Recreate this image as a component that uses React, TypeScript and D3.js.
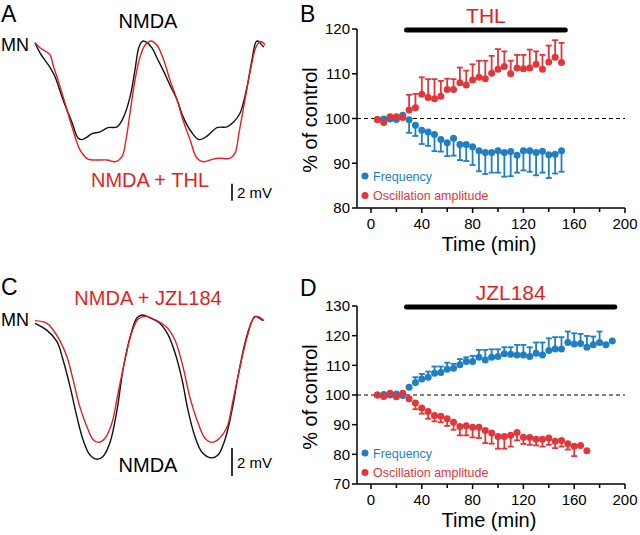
import React from "react";
import * as d3 from "d3";

// ---------- Panel B (THL) ----------
const thlTime = [5,10,15,20,25,30,35,40,45,50,55,60,65,70,75,80,85,90,95,100,105,110,115,120,125,130,135,140,145,150];
const thlFreq = [99.8,99.9,99.9,99.8,100.7,99.7,98.5,97.4,97.0,96.4,95.3,94.6,95.6,94.2,94.2,93.7,92.8,92.4,92.4,92.8,92.4,92.6,91.8,92.8,92.8,92.4,92.7,91.9,92.0,92.8];
const thlFreqSem = [0,0,0,0,0,2.9,2.4,3.1,3.1,3.7,2.7,3.0,3.9,3.5,3.7,4.1,4.6,4.8,4.5,4.9,5.4,5.5,3.9,4.4,4.7,5.1,4.8,5.2,4.3,4.7];
const thlAmp = [99.8,99.1,100.4,100.4,100.2,101.9,102.4,105.4,104.7,104.4,105.0,106.5,106.5,108.0,107.5,108.6,109.2,108.9,110.1,111.0,111.6,110.0,111.3,111.1,111.3,112.1,111.0,112.6,113.7,112.5];
const thlAmpSem = [0,0,0,0,0,3.4,3.1,3.8,4.1,4.4,3.4,2.4,2.3,3.4,3.2,3.5,3.7,4.0,3.9,4.5,3.4,2.9,2.9,3.1,4.1,2.9,3.2,3.7,3.8,4.4];

// ---------- Panel D (JZL184) ----------
const jzlTime = [5,10,15,20,25,30,35,40,45,50,55,60,65,70,75,80,85,90,95,100,105,110,115,120,125,130,135,140,145,150,155,160,165,170,175,180,185,190];
const jzlFreq = [100.0,100.2,100.0,100.3,99.8,102.6,104.2,105.4,106.0,107.3,107.6,108.7,109.0,110.2,111.3,111.3,112.7,111.8,112.7,113.0,113.9,113.7,113.5,113.5,113.0,114.1,113.5,115.0,115.5,115.5,117.7,117.2,117.4,116.1,116.9,117.7,116.9,118.2];
const jzlFreqSem = [0,0,0,0,0,0,1.8,1.7,1.9,2.3,2.0,2.2,1.5,1.9,1.4,1.9,2.5,3.4,2.7,2.4,2.2,2.4,3.4,3.4,3.1,3.6,4.2,4.1,4.0,4.0,3.7,3.6,3.2,3.8,2.8,3.7,0,0];
const jzlAmpTime = [5,10,15,20,25,30,35,40,45,50,55,60,65,70,75,80,85,90,95,100,105,110,115,120,125,130,135,140,145,150,155,160,165,170];
const jzlAmp = [100.0,99.5,100.6,99.4,100.6,98.7,97.3,95.6,94.4,93.1,92.8,92.0,90.8,89.4,89.6,89.1,89.1,88.0,87.2,86.0,86.0,86.4,87.4,85.8,85.7,85.1,85.1,85.5,84.4,84.7,83.6,82.7,83.0,81.2];
const jzlAmpSem = [0,0,0,0,0,0,2.1,1.9,2.4,2.0,2.0,2.4,2.5,3.0,3.2,3.4,3.6,4.2,3.6,4.1,4.1,3.8,2.7,2.3,2.5,2.1,2.5,2.3,2.3,2.1,2.0,3.3,0,0];

const xTicks = [0, 40, 80, 120, 160, 200];
const xMinorTicks = [20, 60, 100, 140, 180];
const yTicksB = [80, 90, 100, 110, 120];
const yTicksD = [70, 80, 90, 100, 110, 120, 130];

// ---------- Traces (time s, mV relative to peak) ----------
const traceA_nmda: [number, number][] = [
  [0,-0.2],[0.05,-1.4],[0.15,-3.1],[0.2,-4.2],[0.28,-6.9],[0.37,-9.6],[0.43,-11.4],[0.47,-11.6],[0.52,-11.3],[0.57,-10.9],[0.65,-10.7],[0.73,-10.2],[0.82,-10.1],[0.88,-9.1],[0.95,-6.6],[1.0,-3.4],[1.04,-0.7],[1.08,0],[1.12,-0.2],[1.17,-0.8],[1.22,-2.0],[1.28,-3.4],[1.35,-5.2],[1.42,-6.9],[1.48,-8.9],[1.57,-10.8],[1.64,-11.6],[1.72,-11.2],[1.82,-10.2],[1.92,-10.1],[1.98,-9.6],[2.05,-8.5],[2.12,-5.4],[2.17,-2.2],[2.21,-0.1],[2.23,0],[2.27,-0.5],[2.29,-0.7]
];
const traceA_thl: [number, number][] = [
  [0,-0.2],[0.05,-0.8],[0.15,-1.6],[0.18,-2.8],[0.23,-4.6],[0.3,-7.3],[0.37,-10.1],[0.45,-12.8],[0.53,-13.9],[0.62,-14.0],[0.72,-14.0],[0.8,-14.2],[0.87,-13.6],[0.91,-11.6],[0.95,-8.5],[1.0,-4.6],[1.05,-1.9],[1.1,-0.5],[1.16,0],[1.22,-0.5],[1.28,-2.0],[1.35,-4.6],[1.42,-6.9],[1.48,-9.3],[1.55,-11.6],[1.62,-13.8],[1.68,-14.2],[1.78,-13.9],[1.85,-13.8],[1.95,-13.8],[2.0,-13.2],[2.04,-10.8],[2.1,-6.9],[2.16,-3.1],[2.21,-0.7],[2.25,-0.1],[2.28,-0.2],[2.3,-0.5]
];
const traceC_nmda: [number, number][] = [
  [0,-0.6],[0.12,-1.1],[0.22,-1.9],[0.28,-3.2],[0.35,-5.1],[0.42,-7.3],[0.48,-8.9],[0.55,-10.0],[0.62,-10.3],[0.68,-10.1],[0.75,-9.1],[0.82,-6.8],[0.88,-3.9],[0.95,-1.6],[1.02,-0.2],[1.07,0],[1.15,-0.2],[1.25,-0.6],[1.33,-1.4],[1.4,-2.7],[1.47,-4.6],[1.53,-6.8],[1.6,-8.7],[1.67,-9.8],[1.76,-10.2],[1.83,-10.0],[1.9,-8.9],[1.97,-6.8],[2.03,-4.4],[2.1,-2.0],[2.16,-0.6],[2.2,-0.1],[2.24,-0.2],[2.28,-0.4]
];
const traceC_jzl: [number, number][] = [
  [0,-0.4],[0.12,-0.6],[0.23,-1.6],[0.32,-3.0],[0.38,-4.6],[0.45,-6.6],[0.52,-8.0],[0.58,-8.9],[0.63,-9.1],[0.7,-8.8],[0.77,-7.7],[0.83,-5.6],[0.9,-3.2],[0.97,-1.2],[1.03,-0.3],[1.1,-0.1],[1.22,-0.4],[1.32,-0.9],[1.4,-1.8],[1.47,-3.4],[1.55,-5.9],[1.63,-7.7],[1.7,-8.8],[1.77,-9.1],[1.83,-8.9],[1.92,-8.0],[1.98,-6.1],[2.05,-3.7],[2.12,-1.6],[2.18,-0.3],[2.22,-0.1],[2.29,-0.4]
];

const BLUE = "#1f7fc4";
const RED = "#e2363a";
const TRACE_RED = "#e61e24";
const FONT = "'Liberation Sans', Arial, Helvetica, sans-serif";

type SeriesProps = {
  times: number[]; vals: number[]; sems: number[]; dir: 1 | -1; color: string;
  x: d3.ScaleLinear<number, number>; y: d3.ScaleLinear<number, number>;
};

function Series({ times, vals, sems, dir, color, x, y }: SeriesProps) {
  return (
    <g>
      {times.map((t, i) => {
        if (sems[i] < 0.5) return null;
        const cx = x(t);
        const y0 = y(vals[i]);
        const y1 = y(vals[i] + dir * sems[i]);
        return (
          <g key={"e" + i} stroke={color} strokeWidth={1.8}>
            <line x1={cx} x2={cx} y1={y0} y2={y1} />
            <line x1={cx - 3} x2={cx + 3} y1={y1} y2={y1} />
          </g>
        );
      })}
      {times.map((t, i) => (
        <circle key={"c" + i} cx={x(t)} cy={y(vals[i])} r={3.5} fill={color} />
      ))}
    </g>
  );
}

type PanelProps = {
  yDomain: [number, number]; yRange: [number, number]; yTicks: number[];
  drug: string; barEnd: number; children: (x: any, y: any) => React.ReactNode;
  legendY: number; labelY: number;
};

function Panel({ yDomain, yRange, yTicks, drug, barEnd, children, legendY, labelY }: PanelProps) {
  const x = d3.scaleLinear().domain([0, 200]).range([371, 625]);
  const y = d3.scaleLinear().domain(yDomain).range(yRange);
  const axisX = 357;
  const baseY = yRange[0];
  const topY = yRange[1];
  return (
    <g fontFamily={FONT}>
      {/* drug bar */}
      <line x1={x(28)} x2={x(barEnd)} y1={topY + 1} y2={topY + 1} stroke="#000" strokeWidth={5} strokeLinecap="round" />
      <text x={(x(28) + x(barEnd)) / 2} y={topY - 6} textAnchor="middle" fill={TRACE_RED} fontSize={21}>{drug}</text>
      {/* dashed 100% */}
      <line x1={axisX} x2={625} y1={y(100)} y2={y(100)} stroke="#000" strokeWidth={1.2} strokeDasharray="4,3" />
      {/* y axis */}
      <line x1={axisX} x2={axisX} y1={topY} y2={baseY} stroke="#000" strokeWidth={1.5} />
      {yTicks.map((t) => (
        <g key={"yt" + t}>
          <line x1={axisX - 5} x2={axisX} y1={y(t)} y2={y(t)} stroke="#000" strokeWidth={1.5} />
          <text x={axisX - 7} y={y(t)} dy="0.36em" textAnchor="end" fontSize={15}>{t}</text>
        </g>
      ))}
      {/* x axis */}
      <line x1={axisX} x2={625} y1={baseY} y2={baseY} stroke="#000" strokeWidth={1.5} />
      {xTicks.map((t) => (
        <g key={"xt" + t}>
          <line x1={x(t)} x2={x(t)} y1={baseY} y2={baseY + 5} stroke="#000" strokeWidth={1.5} />
          <text x={x(t)} y={baseY + 21} textAnchor="middle" fontSize={15}>{t}</text>
        </g>
      ))}
      {xMinorTicks.map((t) => (
        <line key={"xm" + t} x1={x(t)} x2={x(t)} y1={baseY} y2={baseY + 4} stroke="#000" strokeWidth={1.5} />
      ))}
      <text x={489} y={baseY + 43} textAnchor="middle" fontSize={20}>Time (min)</text>
      <text transform={`translate(317,${labelY}) rotate(-90)`} textAnchor="middle" fontSize={20}>% of control</text>
      {children(x, y)}
      {/* legend */}
      <circle cx={365} cy={legendY} r={3.5} fill={BLUE} />
      <text x={373} y={legendY} dy="0.36em" fontSize={12.5} fill={BLUE}>Frequency</text>
      <circle cx={365} cy={legendY + 19.5} r={3.5} fill={RED} />
      <text x={373} y={legendY + 19.5} dy="0.36em" fontSize={12.5} fill={RED}>Oscillation amplitude</text>
    </g>
  );
}

function Trace({ data, x, y, color }: { data: [number, number][]; x: any; y: any; color: string }) {
  const line = d3.line<[number, number]>().x((d) => x(d[0])).y((d) => y(d[1])).curve(d3.curveCatmullRom.alpha(0.5));
  return <path d={line(data) || ""} fill="none" stroke={color} strokeWidth={1.4} />;
}

export default function App() {
  const xTrace = d3.scaleLinear().domain([0, 2.3]).range([35, 265]);
  const yA = d3.scaleLinear().domain([0, -14]).range([41, 160]);
  const yC = d3.scaleLinear().domain([0, -11]).range([315, 469]);
  return (
    <svg width={640} height={535} style={{ position: "fixed", left: 0, top: 0, background: "#fff" }} fontFamily={FONT}>
      <rect width={640} height={535} fill="#fff" />
      {/* panel letters */}
      <text x={1} y={22} fontSize={23}>A</text>
      <text x={300} y={22} fontSize={23}>B</text>
      <text x={1} y={295} fontSize={23}>C</text>
      <text x={300} y={296} fontSize={23}>D</text>

      {/* Panel A */}
      <text x={148} y={28} textAnchor="middle" fontSize={20}>NMDA</text>
      <text x={1} y={51} fontSize={18}>MN</text>
      <Trace data={traceA_nmda} x={xTrace} y={yA} color="#111" />
      <Trace data={traceA_thl} x={xTrace} y={yA} color={TRACE_RED} />
      <text x={150} y={187} textAnchor="middle" fontSize={20} fill={TRACE_RED}>NMDA + THL</text>
      <line x1={232} x2={232} y1={yA(-16.8)} y2={yA(-18.8)} stroke="#000" strokeWidth={1.6} />
      <text x={237} y={198} fontSize={15}>2 mV</text>

      {/* Panel C */}
      <text x={148} y={305} textAnchor="middle" fontSize={20} fill={TRACE_RED}>NMDA + JZL184</text>
      <text x={1} y={326} fontSize={18}>MN</text>
      <Trace data={traceC_nmda} x={xTrace} y={yC} color="#111" />
      <Trace data={traceC_jzl} x={xTrace} y={yC} color={TRACE_RED} />
      <text x={148} y={472} textAnchor="middle" fontSize={20}>NMDA</text>
      <line x1={232} x2={232} y1={yC(-9.5)} y2={yC(-11.5)} stroke="#000" strokeWidth={1.6} />
      <text x={237} y={468} fontSize={15}>2 mV</text>

      {/* Panel B */}
      <Panel yDomain={[80, 120]} yRange={[208, 29]} yTicks={yTicksB} drug="THL" barEnd={153} legendY={176} labelY={120}>
        {(x, y) => (
          <g>
            <Series times={thlTime} vals={thlFreq} sems={thlFreqSem} dir={-1} color={BLUE} x={x} y={y} />
            <Series times={thlTime} vals={thlAmp} sems={thlAmpSem} dir={1} color={RED} x={x} y={y} />
          </g>
        )}
      </Panel>

      {/* Panel D */}
      <Panel yDomain={[70, 130]} yRange={[484, 306]} yTicks={yTicksD} drug="JZL184" barEnd={192} legendY={453} labelY={397}>
        {(x, y) => (
          <g>
            <Series times={jzlTime} vals={jzlFreq} sems={jzlFreqSem} dir={1} color={BLUE} x={x} y={y} />
            <Series times={jzlAmpTime} vals={jzlAmp} sems={jzlAmpSem} dir={-1} color={RED} x={x} y={y} />
          </g>
        )}
      </Panel>
    </svg>
  );
}
